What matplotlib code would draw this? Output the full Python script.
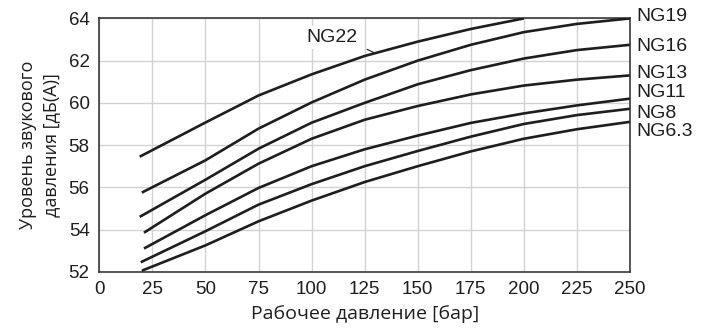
import numpy as np
import matplotlib
matplotlib.use("Agg")
import matplotlib.pyplot as plt

plt.rcParams['font.family'] = ['Liberation Sans', 'DejaVu Sans']

# pressure [bar] vs sound pressure level [dB(A)]
x_ng22 = [19, 50, 75, 100, 125, 150, 175, 200]
y_ng22 = [57.45, 59.07, 60.35, 61.35, 62.22, 62.9, 63.5, 64.0]

x_ng19 = [20, 50, 75, 100, 125, 150, 175, 200, 225, 250]
y_ng19 = [55.75, 57.28, 58.78, 60.02, 61.1, 62.0, 62.75, 63.35, 63.74, 64.0]

x_ng16 = [19, 50, 75, 100, 125, 150, 175, 200, 225, 250]
y_ng16 = [54.6, 56.36, 57.83, 59.06, 60.0, 60.88, 61.55, 62.1, 62.5, 62.75]

x_ng13 = [21, 50, 75, 100, 125, 150, 175, 200, 225, 250]
y_ng13 = [53.85, 55.7, 57.12, 58.3, 59.2, 59.85, 60.4, 60.82, 61.1, 61.3]

x_ng11 = [21, 50, 75, 100, 125, 150, 175, 200, 225, 250]
y_ng11 = [53.1, 54.68, 55.97, 57.0, 57.8, 58.45, 59.05, 59.5, 59.88, 60.2]

x_ng8 = [19.5, 50, 75, 100, 125, 150, 175, 200, 225, 250]
y_ng8 = [52.45, 53.92, 55.18, 56.15, 57.0, 57.72, 58.4, 59.0, 59.42, 59.72]

x_ng63 = [20, 50, 75, 100, 125, 150, 175, 200, 225, 250]
y_ng63 = [52.05, 53.25, 54.39, 55.37, 56.25, 57.0, 57.7, 58.3, 58.75, 59.1]

series = [
    ("NG22", x_ng22, y_ng22),
    ("NG19", x_ng19, y_ng19),
    ("NG16", x_ng16, y_ng16),
    ("NG13", x_ng13, y_ng13),
    ("NG11", x_ng11, y_ng11),
    ("NG8", x_ng8, y_ng8),
    ("NG6.3", x_ng63, y_ng63),
]

right_labels = ["NG19", "NG16", "NG13", "NG11", "NG8", "NG6.3"]
right_label_y = [64.08, 62.66, 61.4, 60.5, 59.5, 58.65]

x_ticks = np.arange(0, 251, 25)
y_ticks = np.arange(52, 65, 2)

fig = plt.figure(figsize=(7.15, 3.29), dpi=100)
ax = fig.add_axes([0.139, 0.174, 0.742, 0.770])

for name, xs, ys in series:
    ax.plot(xs, ys, color="#1e1e1e", lw=1.9, solid_capstyle="butt", zorder=3)

ax.set_xlim(0, 250)
ax.set_ylim(52, 64)
ax.set_xticks(x_ticks)
ax.set_yticks(y_ticks)
ax.grid(True, color="#d2d2d2", lw=1.0)
ax.set_axisbelow(True)
ax.tick_params(length=0, pad=7, labelsize=13.5, colors="#1e1e1e")
for sp in ax.spines.values():
    sp.set_color("#2a2a2a")
    sp.set_linewidth(1.1)

ax.set_xlabel("Рабочее давление [бар]", fontsize=14, family=["Open Sans", "DejaVu Sans"],
              color="#1e1e1e", labelpad=5)
ax.set_ylabel("Уровень звукового\nдавления [дБ(А)]", fontsize=13,
              family=["Open Sans", "DejaVu Sans"], color="#1e1e1e",
              labelpad=6, linespacing=1.4)

for lab, ly in zip(right_labels, right_label_y):
    ax.text(253, ly, lab, fontsize=14, color="#1e1e1e", va="center", ha="left",
            clip_on=False)

# NG22 label with leader line
ax.text(109.8, 63.09, "NG22", fontsize=14, color="#1e1e1e", ha="center", va="center",
        bbox=dict(facecolor="white", edgecolor="none", pad=2), zorder=2)
ax.plot([126.2, 130.3], [62.53, 62.34], color="#1e1e1e", lw=0.8, zorder=3)

fig.savefig("out.png", dpi=100)
